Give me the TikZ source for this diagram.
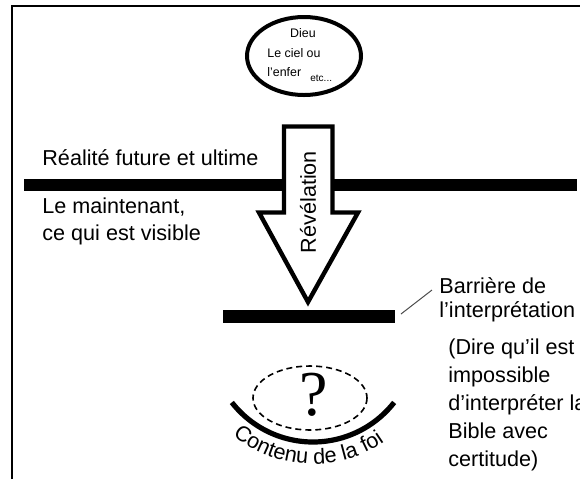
\documentclass[tikz,border=0pt]{standalone}
\usepackage{fontspec}
\setmainfont{Liberation Sans}
\newfontfamily\qfont{Liberation Serif}
\usetikzlibrary{decorations.text, positioning}

\begin{document}
\begin{tikzpicture}[x=0.5pt, y=-0.5pt,
    txt/.style={font=\fontsize{10.8}{13.5}\selectfont, inner sep=0pt, anchor=base west},
    tiny/.style={font=\fontsize{6.2}{7}\selectfont, inner sep=0pt},
    bar/.style={fill=black, inner sep=0pt}]
    \useasboundingbox (0,0) rectangle (580,479);
    \draw[line width=0.8pt] (12,479) -- (12,6) -- (580,6);

    % ciel
    \draw[line width=2pt] (304,56) ellipse [x radius=57, y radius=39];
    \node (dieu) [tiny] at (303,33) {Dieu};
    \node (ciel) [tiny] at (294,53) {Le ciel ou};
    \node (enfer) [tiny, anchor=west] at (267,72) {l'enfer};
    \node (etc) [tiny, font=\fontsize{5}{6}\selectfont, anchor=west] at (310,78) {etc...};

    \node (futur) [txt] at (42,165) {Réalité future et ultime};
    \node (ligne) [bar, minimum width=276.5pt, minimum height=6pt] at (300.5,184.5) {};
    \node (maint1) [txt] at (42,213) {Le maintenant,};
    \node (maint2) [txt] at (42,240) {ce qui est visible};

    \draw[line width=2.2pt, fill=white] (284,126.5) -- (332.5,126.5) -- (332.5,212.5)
        -- (358,212.5) -- (308,302) -- (259,212.5) -- (284,212.5) -- cycle;
    \node (revel) [txt, anchor=center, rotate=90] at (308,202) {Révélation};

    \node (barriere) [bar, minimum width=86pt, minimum height=6.5pt] at (309,316.5) {};
    \coordinate (b1) at (401,314);
    \coordinate (b2) at (432,290);
    \draw[gray!60!black, line width=0.5pt] (b1) -- (b2);
    \node (bt1) [txt] at (439,293) {Barrière de};
    \node (bt2) [txt] at (439,317) {l'interprétation};
    \node (d1) [txt] at (448,354) {(Dire qu'il est};
    \node (d2) [txt] at (448,382) {impossible};
    \node (d3) [txt] at (448,410) {d'interpréter la};
    \node (d4) [txt] at (448,438) {Bible avec};
    \node (d5) [txt] at (448,466) {certitude)};

    % foi
    \draw[dash pattern=on 3pt off 2pt, line width=0.8pt] (310,398) ellipse [x radius=57, y radius=32];
    \node (q) [font=\qfont\fontsize{32}{32}\selectfont, inner sep=0pt] at (314,395) {?};
    \draw[line width=2.6pt] (313,339) ++(142:103) arc[start angle=142, end angle=38, radius=103];
    \path[decorate, decoration={text along path, text align=center,
        text={|\fontsize{10.8}{12}\selectfont|Contenu de la foi}}]
        (313,339) ++(137:125) arc[start angle=137, end angle=48, radius=125];
\end{tikzpicture}
\end{document}
